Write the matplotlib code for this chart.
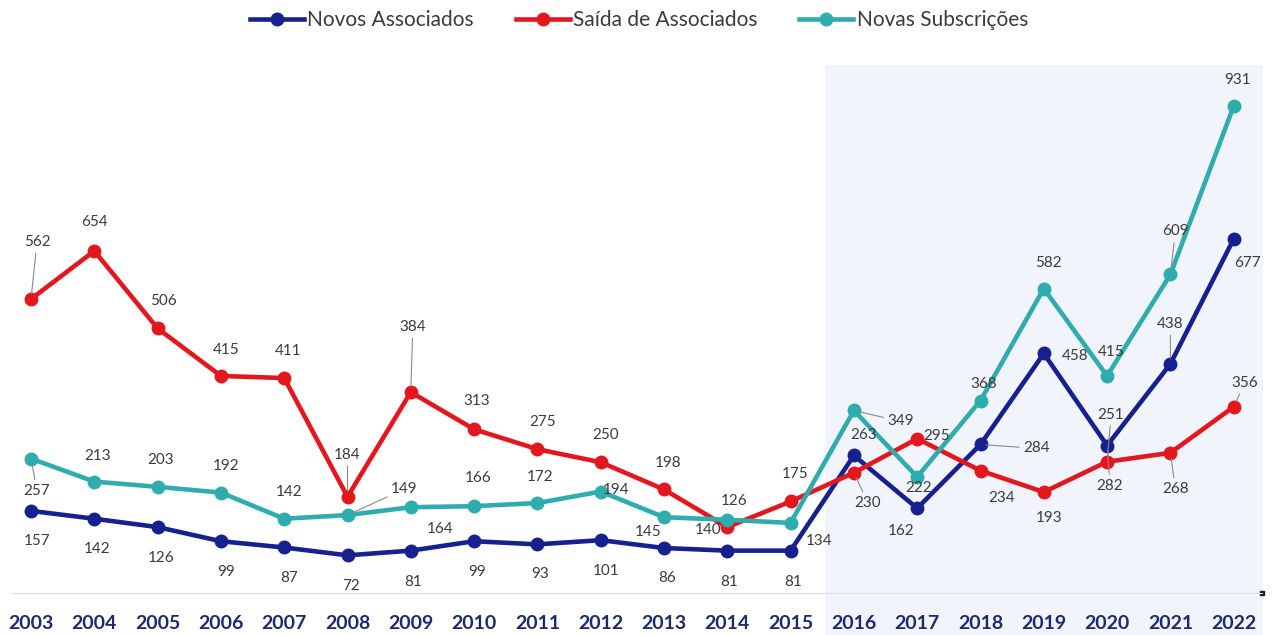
import matplotlib
matplotlib.use("Agg")
import matplotlib.pyplot as plt
from matplotlib.patches import Rectangle

# data
years = list(range(2003, 2023))
novos = [157, 142, 126, 99, 87, 72, 81, 99, 93, 101, 86, 81, 81, 263, 162, 284, 458, 282, 438, 677]
saida = [562, 654, 506, 415, 411, 184, 384, 313, 275, 250, 198, 126, 175, 230, 295, 234, 193, 251, 268, 356]
subs = [257, 213, 203, 192, 142, 149, 164, 166, 172, 194, 145, 140, 134, 349, 222, 368, 582, 415, 609, 931]
names = ["Novos Associados", "Saída de Associados", "Novas Subscrições"]

# label offsets in pixels (dx right, dy down) and which labels get a leader line
blue_off = [(6, 30), (3, 30), (3, 31), (5, 31), (5, 31), (3, 31), (2, 31), (3, 31), (3, 30), (5, 31),
            (3, 30), (2, 31), (3, 31), (10, -20), (-16, 23), (56, 4), (31, 3), (3, 40), (0, -40), (14, 24)]
red_off = [(6, -57), (0, -29), (6, -27), (5, -26), (4, -27), (0, -42), (2, -65), (3, -28), (5, -27), (5, -27),
           (4, -26), (7, -26), (4, -27), (14, 30), (19, -3), (21, 27), (5, 26), (4, -47), (5, 36), (11, -24)]
teal_off = [(6, 32), (3, -26), (3, -27), (5, -27), (5, -27), (57, -26), (29, 22), (4, -28), (3, -26), (15, -2),
            (-16, 15), (-19, 10), (28, 18), (47, 11), (1, 11), (3, -17), (5, -26), (4, -24), (5, -43), (4, -26)]
blue_lead = [15, 17, 18]
red_lead = [0, 5, 6, 13, 17, 18, 19]
teal_lead = [0, 5, 13, 18]

c_blue = "#17208f"
c_red = "#e3171d"
c_teal = "#2eacae"

plt.rcParams['font.family'] = ['Lato', 'DejaVu Sans']

fig = plt.figure(figsize=(12.73, 6.35), dpi=100)
ax = fig.add_axes([0, 42 / 635, 1, 593 / 635])
ax.set_facecolor("none")

# shaded 2016-2022 block
fig.patches.append(Rectangle((825 / 1273, 0), (1263 - 825) / 1273, (635 - 65) / 635,
                             transform=fig.transFigure, facecolor="#f1f4fa", edgecolor="none", zorder=-1))

series = [(novos, c_blue, blue_off, blue_lead),
          (saida, c_red, red_off, red_lead),
          (subs, c_teal, teal_off, teal_lead)]
lines = []
for (vals, col, offs, lead), name in zip(series, names):
    ln, = ax.plot(years, vals, color=col, lw=3.3, marker="o", ms=9, label=name,
                  solid_joinstyle="round", zorder=3)
    lines.append(ln)
    for i, (x, v) in enumerate(zip(years, vals)):
        dx, dy = offs[i]
        ap = None
        if i in lead:
            ap = dict(arrowstyle="-", color="#8a8a8a", lw=0.8, shrinkA=1, shrinkB=4)
        ax.annotate(str(v), (x, v), xytext=(dx, -dy), textcoords="offset pixels",
                    ha="center", va="center", fontsize=11, color="#3b3b3b",
                    arrowprops=ap, zorder=5)

ax.set_xlim(2003 - 31 / 63.3, 2003 + (1273 - 31) / 63.3)
ax.set_ylim(0, 593 / 0.523)
ax.set_xticks(years)
ax.set_xticklabels([str(y) for y in years], fontsize=14, fontweight="bold", color="#1f2a6e")
ax.tick_params(axis="x", length=0, pad=16)
ax.set_yticks([])
for s in ["top", "left", "right"]:
    ax.spines[s].set_visible(False)
ax.spines["bottom"].set_color("#dcdfe6")
ax.spines["bottom"].set_bounds(2003 - 21 / 63.3, 2003 + (1262 - 31) / 63.3)
ax.plot([2003 + (1262 - 31) / 63.3], [0], marker="s", ms=3, color="#1a1a1a", clip_on=False)

fig.legend(handles=lines, loc="center", bbox_to_anchor=(0.502, 1 - 20 / 635), ncol=3,
           frameon=False, fontsize=15, handlelength=2.6, columnspacing=2.0, handletextpad=0.15,
           labelcolor="#3b3b3b")

fig.savefig("out.png", dpi=100)
